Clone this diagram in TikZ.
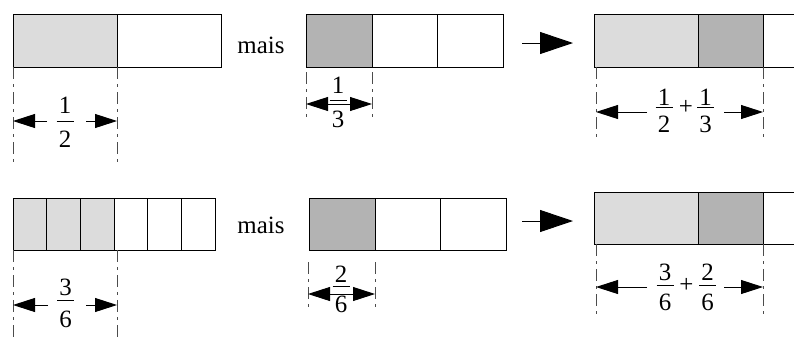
\documentclass[tikz,border=0pt]{standalone}
\usepackage{fontspec}
\setmainfont{Liberation Serif}
\usetikzlibrary{arrows.meta}
\definecolor{lightg}{HTML}{DCDCDC}
\definecolor{darkg}{HTML}{B3B3B3}
\tikzset{
  cellbox/.style={draw=black, line width=1bp},
  guide/.style={draw=black!70, line width=0.9bp, dash pattern=on 12bp off 5bp on 3bp off 5bp},
  dimtip/.style={line width=0.9bp, -{Triangle[length=22bp,width=14bp]}},
  dimboth/.style={line width=0.9bp, {Triangle[length=22bp,width=14bp]}-{Triangle[length=22bp,width=14bp]}},
  bigarrow/.style={line width=1bp, -{Triangle[length=33bp,width=22bp]}},
  lbl/.style={font=\fontsize{25}{29}\selectfont, inner sep=0pt},
  fbar/.style={line width=1bp},
}
% name, x, ybar, ynumbase, ydenbase, num, den
\newcommand\myfrac[7]{%
  \node[lbl, anchor=base] (#1n) at (#2,#4) {#6};
  \node[lbl, anchor=base] (#1d) at (#2,#5) {#7};
  \coordinate (#1l) at (#2-8.5,#3);
  \coordinate (#1r) at (#2+8.5,#3);
  \draw[fbar] (#1l) -- (#1r);
}
\begin{document}
\begin{tikzpicture}[x=1bp,y=-1bp]
\clip (0,0) rectangle (794,342);
\fill[white] (0,0) rectangle (794,342);

% ---------- top row ----------
% box 1 : 1/2
\fill[lightg] (13,14) rectangle (117,67);
\draw[cellbox] (13,14) rectangle (221,67);
\draw[cellbox] (117,14) -- (117,67);
% box 2 : 1/3
\fill[darkg] (306,14) rectangle (372,67);
\draw[cellbox] (306,14) rectangle (503,67);
\draw[cellbox] (372,14) -- (372,67) (437,14) -- (437,67);
% box 3 : result
\fill[lightg] (594,14) rectangle (698,67);
\fill[darkg] (698,14) rectangle (763,67);
\draw[cellbox] (800,14) -- (594,14) -- (594,67) -- (800,67);
\draw[cellbox] (698,14) -- (698,67) (763,14) -- (763,67);

\node[lbl, anchor=base] (mais1) at (261,53) {mais};
\coordinate (ba1) at (522,43);
\coordinate (bb1) at (573,43);
\draw[bigarrow] (ba1) -- (bb1);

% guides
\draw[guide] (13,67) -- (13,162) (117,67) -- (117,162);
\draw[guide] (306,72) -- (306,118) (372,72) -- (372,118);
\draw[guide] (596,67) -- (596,138) (763,67) -- (763,138);

% dimension 1/2
\myfrac{fa}{65}{121}{113}{147}{1}{2}
\coordinate (da1) at (13,121); \coordinate (da2) at (47,121);
\coordinate (da3) at (86,121); \coordinate (da4) at (117,121);
\draw[dimtip] (da2) -- (da1);
\draw[dimtip] (da3) -- (da4);
% dimension 1/3
\coordinate (db1) at (306,104); \coordinate (db2) at (372,104);
\draw[dimboth] (db1) -- (db2);
\myfrac{fb}{338}{100}{93}{127}{1}{3}
% dimension 1/2+1/3
\myfrac{fc}{664}{107}{105}{132.5}{1}{2}
\node[lbl] (plus1) at (686,107.5) {+};
\myfrac{fd}{705.5}{107}{105}{132.5}{1}{3}
\coordinate (dc1) at (596,112); \coordinate (dc2) at (647,112);
\coordinate (dc3) at (724,112); \coordinate (dc4) at (763,112);
\draw[dimtip] (dc2) -- (dc1);
\draw[dimtip] (dc3) -- (dc4);

% ---------- bottom row ----------
% box 4 : 3/6
\fill[lightg] (13,198) rectangle (114,250);
\draw[cellbox] (13,198) rectangle (215,250);
\foreach \xx in {46.7,80.3,114,147.7,181.3} \draw[cellbox] (\xx,198) -- (\xx,250);
% box 5 : 2/6
\fill[darkg] (309,198) rectangle (375,250);
\draw[cellbox] (309,198) rectangle (506,250);
\draw[cellbox] (375,198) -- (375,250) (440,198) -- (440,250);
% box 6 : result
\fill[lightg] (594,192) rectangle (698,244);
\fill[darkg] (698,192) rectangle (763,244);
\draw[cellbox] (800,192) -- (594,192) -- (594,244) -- (800,244);
\draw[cellbox] (698,192) -- (698,244) (763,192) -- (763,244);

\node[lbl, anchor=base] (mais2) at (261,233) {mais};
\coordinate (ba2) at (522,221);
\coordinate (bb2) at (573,221);
\draw[bigarrow] (ba2) -- (bb2);

% guides
\draw[guide] (13,250) -- (13,342) (117,250) -- (117,342);
\draw[guide] (308,262) -- (308,308) (375,262) -- (375,308);
\draw[guide] (596,244) -- (596,316) (763,244) -- (763,316);

% dimension 3/6
\myfrac{fe}{65.5}{300}{295}{327}{3}{6}
\coordinate (de1) at (13,305); \coordinate (de2) at (48,305);
\coordinate (de3) at (86,305); \coordinate (de4) at (117,305);
\draw[dimtip] (de2) -- (de1);
\draw[dimtip] (de3) -- (de4);
% dimension 2/6
\coordinate (df1) at (308,294); \coordinate (df2) at (375,294);
\draw[dimboth] (df1) -- (df2);
\myfrac{ff}{341}{286}{282}{312}{2}{6}
% dimension 3/6+2/6
\myfrac{fg}{665}{285}{280}{310}{3}{6}
\node[lbl] (plus2) at (686.5,285) {+};
\myfrac{fh}{707.5}{285}{280}{310}{2}{6}
\coordinate (dg1) at (596,287); \coordinate (dg2) at (647,287);
\coordinate (dg3) at (724,287); \coordinate (dg4) at (763,287);
\draw[dimtip] (dg2) -- (dg1);
\draw[dimtip] (dg3) -- (dg4);
\end{tikzpicture}
\end{document}
